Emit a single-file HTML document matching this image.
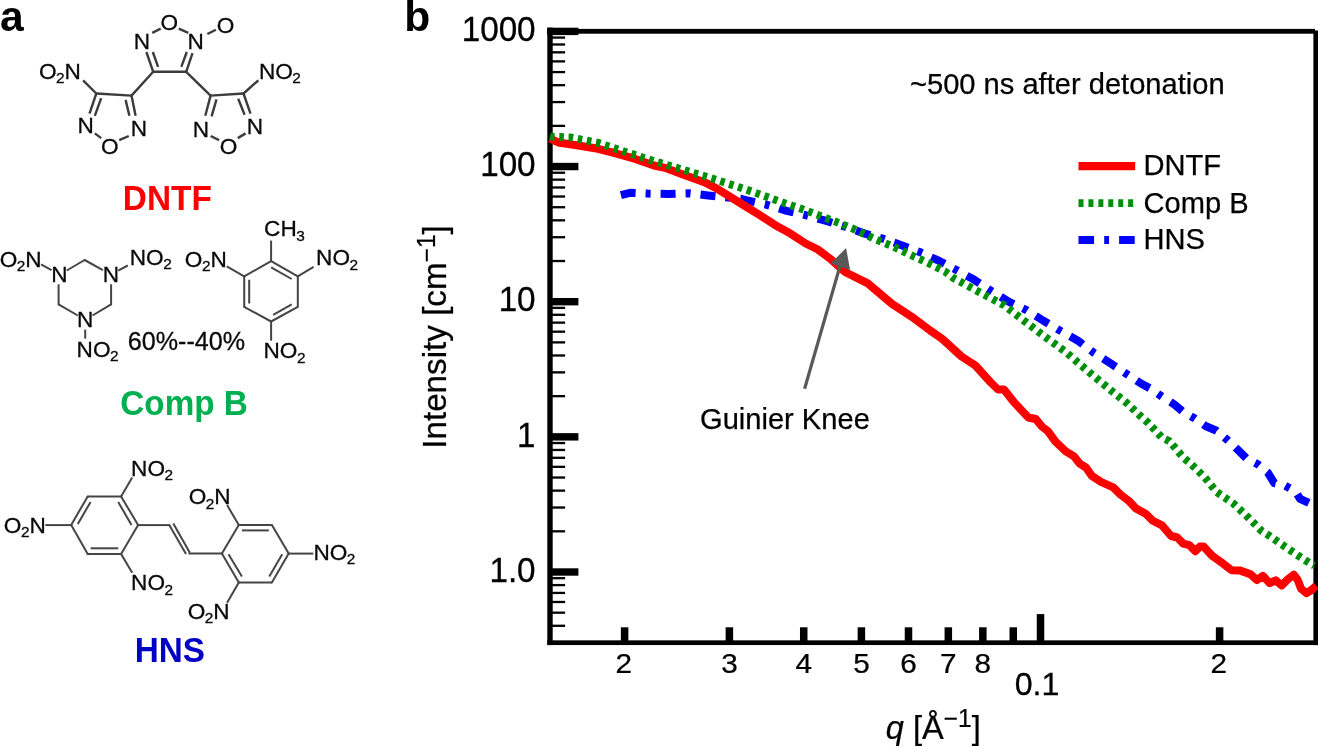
<!DOCTYPE html>
<html><head><meta charset="utf-8"><title>Figure</title>
<style>
html,body{margin:0;padding:0;background:#fff;}
body{width:1318px;height:747px;overflow:hidden;}
svg{display:block;font-family:"Liberation Sans", Arial, Helvetica, sans-serif;will-change:transform;}
.b{stroke:#454545;stroke-width:2.0;stroke-linecap:butt;fill:none;}
.d{fill:#454545;stroke:none;}
.dn .d{fill:#3c3c3c;}
.at{font-size:22.6px;fill:#0a0a0a;stroke:#0a0a0a;stroke-width:0.3;}
.dn .b{stroke:#3c3c3c;stroke-width:2.4;}
</style></head><body>
<svg width="1318" height="747" viewBox="0 0 1318 747">
<rect width="1318" height="747" fill="#fff"/>

<text x="0" y="31.4" font-size="42.6" font-weight="bold" fill="#000">a</text>
<text x="404.3" y="31" font-size="42.6" font-weight="bold" fill="#000">b</text>
<g id="chem">
<g style="stroke-width:2.4;stroke:#3c3c3c" class="dn">
<line class="b" x1="152.2" y1="32.9" x2="160.7" y2="28.7"/>
<line class="b" x1="178.7" y1="28.7" x2="188.3" y2="32.9"/>
<line class="b" x1="207.4" y1="34.0" x2="215.9" y2="29.7"/>
<line class="b" x1="146.4" y1="52.0" x2="153.2" y2="71.8"/>
<line class="b" x1="152.8" y1="52.0" x2="158.1" y2="66.9"/>
<line class="b" x1="153.2" y1="71.8" x2="186.2" y2="71.8"/>
<line class="b" x1="192.5" y1="53.1" x2="186.2" y2="71.8"/>
<line class="b" x1="186.8" y1="52.0" x2="181.3" y2="66.9"/>
<line class="b" x1="153.2" y1="71.8" x2="131.5" y2="95.6"/>
<line class="b" x1="186.2" y1="71.8" x2="210.6" y2="95.6"/>
<circle class="d" cx="153.2" cy="71.8" r="1.2"/>
<circle class="d" cx="186.2" cy="71.8" r="1.2"/>
<circle class="d" cx="96.3" cy="93.5" r="1.2"/>
<circle class="d" cx="131.5" cy="95.6" r="1.2"/>
<circle class="d" cx="210.6" cy="95.6" r="1.2"/>
<circle class="d" cx="243.5" cy="93.5" r="1.2"/>
<text class="at" x="169.2" y="30.1" text-anchor="middle">O</text>
<text class="at" x="142.0" y="49.1" text-anchor="middle">N</text>
<text class="at" x="195.7" y="49.1" text-anchor="middle">N</text>
<text class="at" x="225.5" y="33.2" text-anchor="middle">O</text>
<line class="b" x1="83.1" y1="80.3" x2="96.3" y2="93.5"/>
<line class="b" x1="96.3" y1="93.5" x2="131.5" y2="95.6"/>
<line class="b" x1="96.3" y1="93.5" x2="89.5" y2="113.7"/>
<line class="b" x1="101.2" y1="98.2" x2="94.8" y2="115.8"/>
<line class="b" x1="131.5" y1="95.6" x2="135.6" y2="115.8"/>
<line class="b" x1="125.6" y1="99.9" x2="129.4" y2="115.8"/>
<line class="b" x1="94.8" y1="133.4" x2="101.2" y2="138.1"/>
<line class="b" x1="119.2" y1="140.2" x2="128.8" y2="136.0"/>
<text class="at" x="85.7" y="133.1" text-anchor="middle">N</text>
<text class="at" x="138.8" y="136.2" text-anchor="middle">N</text>
<text class="at" x="109.7" y="154.3" text-anchor="middle">O</text>
<text class="at" x="80.9" y="78.6" text-anchor="end">O<tspan font-size="15.4" dy="4.3" dx="-0.5">2</tspan><tspan dy="-4.3">N</tspan></text>
<line class="b" x1="210.6" y1="95.6" x2="243.5" y2="93.5"/>
<line class="b" x1="243.5" y1="93.5" x2="258.4" y2="80.3"/>
<line class="b" x1="210.6" y1="95.6" x2="205.3" y2="115.8"/>
<line class="b" x1="216.5" y1="99.4" x2="211.6" y2="116.4"/>
<line class="b" x1="243.5" y1="93.5" x2="250.5" y2="113.7"/>
<line class="b" x1="238.2" y1="98.8" x2="244.6" y2="114.7"/>
<line class="b" x1="210.6" y1="136.0" x2="219.1" y2="140.2"/>
<line class="b" x1="237.8" y1="138.1" x2="245.6" y2="133.4"/>
<text class="at" x="201.0" y="137.3" text-anchor="middle">N</text>
<text class="at" x="254.8" y="134.2" text-anchor="middle">N</text>
<text class="at" x="228.6" y="154.3" text-anchor="middle">O</text>
<text class="at" x="258.9" y="78.6">NO<tspan font-size="15.4" dy="4.3" dx="-0.5">2</tspan></text>
</g>
<line class="b" x1="66.7" y1="270.5" x2="84.6" y2="260.0"/>
<line class="b" x1="84.6" y1="260.0" x2="102.9" y2="270.1"/>
<line class="b" x1="58.6" y1="284.3" x2="58.6" y2="304.4"/>
<line class="b" x1="58.6" y1="304.4" x2="77.8" y2="315.5"/>
<line class="b" x1="111.1" y1="284.3" x2="111.1" y2="304.4"/>
<line class="b" x1="111.1" y1="304.4" x2="92.5" y2="315.5"/>
<line class="b" x1="41.0" y1="264.4" x2="51.5" y2="270.1"/>
<line class="b" x1="118.2" y1="270.7" x2="127.8" y2="265.5"/>
<line class="b" x1="85.2" y1="329.6" x2="85.2" y2="338.6"/>
<circle class="d" cx="84.6" cy="260.0" r="1.0"/>
<circle class="d" cx="58.6" cy="304.4" r="1.0"/>
<circle class="d" cx="111.1" cy="304.4" r="1.0"/>
<text class="at" x="59.5" y="282.1" text-anchor="middle">N</text>
<text class="at" x="110.8" y="282.1" text-anchor="middle">N</text>
<text class="at" x="85.2" y="327.2" text-anchor="middle">N</text>
<text class="at" x="41.6" y="266.5" text-anchor="end">O<tspan font-size="15.4" dy="4.3" dx="-0.5">2</tspan><tspan dy="-4.3">N</tspan></text>
<text class="at" x="129.8" y="264.9">NO<tspan font-size="15.4" dy="4.3" dx="-0.5">2</tspan></text>
<text class="at" x="76.6" y="356.9">NO<tspan font-size="15.4" dy="4.3" dx="-0.5">2</tspan></text>
<line class="b" x1="271.1" y1="261.1" x2="297.8" y2="276.4"/>
<line class="b" x1="297.8" y1="276.4" x2="297.8" y2="306.9"/>
<line class="b" x1="297.8" y1="306.9" x2="271.1" y2="321.5"/>
<line class="b" x1="271.1" y1="321.5" x2="244.2" y2="306.9"/>
<line class="b" x1="244.2" y1="306.9" x2="244.2" y2="276.4"/>
<line class="b" x1="244.2" y1="276.4" x2="271.1" y2="261.1"/>
<line class="b" x1="271.1" y1="267.3" x2="291.7" y2="279.0"/>
<line class="b" x1="249.2" y1="279.8" x2="249.2" y2="303.5"/>
<line class="b" x1="291.7" y1="304.4" x2="273.2" y2="314.9"/>
<line class="b" x1="271.1" y1="261.1" x2="271.1" y2="240.6"/>
<line class="b" x1="226.8" y1="266.4" x2="244.2" y2="276.4"/>
<line class="b" x1="297.8" y1="276.4" x2="313.6" y2="266.9"/>
<line class="b" x1="271.1" y1="321.5" x2="271.1" y2="340.7"/>
<circle class="d" cx="271.1" cy="261.1" r="1.0"/>
<circle class="d" cx="297.8" cy="276.4" r="1.0"/>
<circle class="d" cx="297.8" cy="306.9" r="1.0"/>
<circle class="d" cx="271.1" cy="321.5" r="1.0"/>
<circle class="d" cx="244.2" cy="306.9" r="1.0"/>
<circle class="d" cx="244.2" cy="276.4" r="1.0"/>
<text class="at" x="264.1" y="236.4">CH<tspan font-size="15.4" dy="4.3" dx="-0.5">3</tspan></text>
<text class="at" x="226.8" y="266.5" text-anchor="end">O<tspan font-size="15.4" dy="4.3" dx="-0.5">2</tspan><tspan dy="-4.3">N</tspan></text>
<text class="at" x="316.1" y="265.4">NO<tspan font-size="15.4" dy="4.3" dx="-0.5">2</tspan></text>
<text class="at" x="263.5" y="358.3">NO<tspan font-size="15.4" dy="4.3" dx="-0.5">2</tspan></text>
<line class="b" x1="71.2" y1="525.1" x2="87.7" y2="496.4"/>
<line class="b" x1="87.7" y1="496.4" x2="121.1" y2="496.4"/>
<line class="b" x1="121.1" y1="496.4" x2="138.1" y2="525.1"/>
<line class="b" x1="138.1" y1="525.1" x2="121.1" y2="553.9"/>
<line class="b" x1="121.1" y1="553.9" x2="87.7" y2="553.9"/>
<line class="b" x1="87.7" y1="553.9" x2="71.2" y2="525.1"/>
<line class="b" x1="77.8" y1="524.0" x2="90.6" y2="501.9"/>
<line class="b" x1="118.2" y1="501.9" x2="131.5" y2="525.1"/>
<line class="b" x1="90.6" y1="548.3" x2="118.2" y2="548.3"/>
<line class="b" x1="45.3" y1="525.1" x2="71.2" y2="525.1"/>
<line class="b" x1="121.1" y1="496.4" x2="132.2" y2="477.6"/>
<line class="b" x1="121.1" y1="553.9" x2="132.2" y2="572.7"/>
<line class="b" x1="138.1" y1="525.1" x2="169.6" y2="525.1"/>
<line class="b" x1="188.9" y1="553.4" x2="221.9" y2="553.6"/>
<line class="b" x1="169.4" y1="525.2" x2="186.0" y2="553.9"/>
<line class="b" x1="173.3" y1="523.6" x2="189.7" y2="552.4"/>
<line class="b" x1="221.9" y1="553.6" x2="238.8" y2="525.0"/>
<line class="b" x1="238.8" y1="525.0" x2="271.9" y2="525.0"/>
<line class="b" x1="271.9" y1="525.0" x2="288.7" y2="553.6"/>
<line class="b" x1="288.7" y1="553.6" x2="271.9" y2="582.4"/>
<line class="b" x1="271.9" y1="582.4" x2="238.8" y2="582.4"/>
<line class="b" x1="238.8" y1="582.4" x2="221.9" y2="553.6"/>
<line class="b" x1="241.9" y1="530.4" x2="268.8" y2="530.4"/>
<line class="b" x1="282.2" y1="554.3" x2="269.3" y2="576.6"/>
<line class="b" x1="228.5" y1="554.3" x2="241.9" y2="576.6"/>
<line class="b" x1="238.8" y1="525.0" x2="227.1" y2="505.1"/>
<line class="b" x1="238.8" y1="582.4" x2="227.1" y2="602.8"/>
<line class="b" x1="288.7" y1="553.6" x2="313.3" y2="553.6"/>
<circle class="d" cx="71.2" cy="525.1" r="1.0"/>
<circle class="d" cx="87.7" cy="496.4" r="1.0"/>
<circle class="d" cx="121.1" cy="496.4" r="1.0"/>
<circle class="d" cx="138.1" cy="525.1" r="1.0"/>
<circle class="d" cx="121.1" cy="553.9" r="1.0"/>
<circle class="d" cx="87.7" cy="553.9" r="1.0"/>
<circle class="d" cx="221.9" cy="553.6" r="1.0"/>
<circle class="d" cx="238.8" cy="525.0" r="1.0"/>
<circle class="d" cx="271.9" cy="525.0" r="1.0"/>
<circle class="d" cx="288.7" cy="553.6" r="1.0"/>
<circle class="d" cx="271.9" cy="582.4" r="1.0"/>
<circle class="d" cx="238.8" cy="582.4" r="1.0"/>
<circle class="d" cx="169.5" cy="525.2" r="1.0"/>
<circle class="d" cx="189.3" cy="553.2" r="1.0"/>
<text class="at" x="45.8" y="532.9" text-anchor="end">O<tspan font-size="15.4" dy="4.3" dx="-0.5">2</tspan><tspan dy="-4.3">N</tspan></text>
<text class="at" x="131.1" y="475.6">NO<tspan font-size="15.4" dy="4.3" dx="-0.5">2</tspan></text>
<text class="at" x="131.1" y="590.4">NO<tspan font-size="15.4" dy="4.3" dx="-0.5">2</tspan></text>
<text class="at" x="230.6" y="504.4" text-anchor="end">O<tspan font-size="15.4" dy="4.3" dx="-0.5">2</tspan><tspan dy="-4.3">N</tspan></text>
<text class="at" x="229.6" y="618.7" text-anchor="end">O<tspan font-size="15.4" dy="4.3" dx="-0.5">2</tspan><tspan dy="-4.3">N</tspan></text>
<text class="at" x="313.4" y="560.1">NO<tspan font-size="15.4" dy="4.3" dx="-0.5">2</tspan></text>
</g>
<text transform="translate(122.8,210.2) scale(1,1.045)" font-size="33.4" font-weight="bold" fill="#ff0000">DNTF</text>
<text transform="translate(120.3,414.9) scale(1,1.03)" font-size="33.3" font-weight="bold" fill="#00b050">Comp B</text>
<text transform="translate(134.7,661.7) scale(1,1.05)" font-size="33.3" font-weight="bold" fill="#0000c4">HNS</text>
<text x="127.8" y="349.5" font-size="25.1" fill="#0a0a0a" stroke="#0a0a0a" stroke-width="0.3">60%--40%</text>
<g id="axes" fill="#000">
<rect x="547.3" y="27.6" width="5.4" height="617.5000000000001"/>
<rect x="1313.3999999999999" y="30.5" width="4.9" height="614.6000000000001"/>
<rect x="547.3" y="28.900000000000002" width="767.7" height="4.8"/>
<rect x="547.3" y="640.35" width="771.0" height="4.7"/>
<rect x="547.3" y="27.70" width="31.1" height="7.4"/>
<rect x="549.8" y="162.85" width="28.6" height="7.4"/>
<rect x="549.8" y="298.00" width="28.6" height="7.4"/>
<rect x="549.8" y="433.15" width="28.6" height="7.4"/>
<rect x="549.8" y="568.30" width="28.6" height="7.4"/>
<rect x="549.8" y="124.72" width="15.3" height="2.3"/>
<rect x="549.8" y="100.92" width="15.3" height="2.3"/>
<rect x="549.8" y="84.03" width="15.3" height="2.3"/>
<rect x="549.8" y="70.93" width="15.3" height="2.3"/>
<rect x="549.8" y="60.23" width="15.3" height="2.3"/>
<rect x="549.8" y="51.18" width="15.3" height="2.3"/>
<rect x="549.8" y="43.35" width="15.3" height="2.3"/>
<rect x="549.8" y="36.43" width="15.3" height="2.3"/>
<rect x="549.8" y="259.87" width="15.3" height="2.3"/>
<rect x="549.8" y="236.07" width="15.3" height="2.3"/>
<rect x="549.8" y="219.18" width="15.3" height="2.3"/>
<rect x="549.8" y="206.08" width="15.3" height="2.3"/>
<rect x="549.8" y="195.38" width="15.3" height="2.3"/>
<rect x="549.8" y="186.33" width="15.3" height="2.3"/>
<rect x="549.8" y="178.50" width="15.3" height="2.3"/>
<rect x="549.8" y="171.58" width="15.3" height="2.3"/>
<rect x="549.8" y="395.02" width="15.3" height="2.3"/>
<rect x="549.8" y="371.22" width="15.3" height="2.3"/>
<rect x="549.8" y="354.33" width="15.3" height="2.3"/>
<rect x="549.8" y="341.23" width="15.3" height="2.3"/>
<rect x="549.8" y="330.53" width="15.3" height="2.3"/>
<rect x="549.8" y="321.48" width="15.3" height="2.3"/>
<rect x="549.8" y="313.65" width="15.3" height="2.3"/>
<rect x="549.8" y="306.73" width="15.3" height="2.3"/>
<rect x="549.8" y="530.17" width="15.3" height="2.3"/>
<rect x="549.8" y="506.37" width="15.3" height="2.3"/>
<rect x="549.8" y="489.48" width="15.3" height="2.3"/>
<rect x="549.8" y="476.38" width="15.3" height="2.3"/>
<rect x="549.8" y="465.68" width="15.3" height="2.3"/>
<rect x="549.8" y="456.63" width="15.3" height="2.3"/>
<rect x="549.8" y="448.80" width="15.3" height="2.3"/>
<rect x="549.8" y="441.88" width="15.3" height="2.3"/>
<rect x="549.8" y="624.63" width="15.3" height="2.3"/>
<rect x="549.8" y="611.53" width="15.3" height="2.3"/>
<rect x="549.8" y="600.83" width="15.3" height="2.3"/>
<rect x="549.8" y="591.78" width="15.3" height="2.3"/>
<rect x="549.8" y="583.95" width="15.3" height="2.3"/>
<rect x="549.8" y="577.03" width="15.3" height="2.3"/>
<rect x="620.86" y="627.3" width="7.5" height="14"/>
<rect x="725.64" y="627.3" width="7.5" height="14"/>
<rect x="799.98" y="627.3" width="7.5" height="14"/>
<rect x="857.64" y="627.3" width="7.5" height="14"/>
<rect x="904.75" y="627.3" width="7.5" height="14"/>
<rect x="944.58" y="627.3" width="7.5" height="14"/>
<rect x="979.09" y="627.3" width="7.5" height="14"/>
<rect x="1009.52" y="627.3" width="7.5" height="14"/>
<rect x="1215.86" y="627.3" width="7.5" height="14"/>
<rect x="1036.75" y="614.1" width="7.5" height="27"/>
</g>
<g font-size="34.4" fill="#000" stroke="#000" stroke-width="0.3" text-anchor="end">
<text transform="translate(535.6,40.8) scale(0.966,1)">1000</text>
<text transform="translate(535.6,176.2) scale(0.966,1)">100</text>
<text transform="translate(535.6,311.4) scale(0.966,1)">10</text>
<text transform="translate(535.6,446.6) scale(0.966,1)">1</text>
<text transform="translate(535.6,582.4) scale(0.966,1)">1.0</text>
</g>
<g font-size="27" fill="#000" stroke="#000" stroke-width="0.25" text-anchor="middle">
<text transform="translate(623.8,672.6) scale(1.1,1)">2</text>
<text transform="translate(729.4,672.6) scale(1.1,1)">3</text>
<text transform="translate(803.7,672.6) scale(1.1,1)">4</text>
<text transform="translate(861.4,672.6) scale(1.1,1)">5</text>
<text transform="translate(908.5,672.6) scale(1.1,1)">6</text>
<text transform="translate(948.3,672.6) scale(1.1,1)">7</text>
<text transform="translate(982.8,672.6) scale(1.1,1)">8</text>
<text transform="translate(1218.8,672.6) scale(1.1,1)">2</text>
</g>
<text x="1037.0" y="695" font-size="32.2" text-anchor="middle" fill="#000" stroke="#000" stroke-width="0.3">0.1</text>
<text transform="translate(446,448.8) rotate(-90) scale(0.977,1)" font-size="34" fill="#000" stroke="#000" stroke-width="0.25">Intensity [cm<tspan font-size="25" dy="-11">−1</tspan><tspan dy="11">]</tspan></text>
<text transform="translate(885.8,739) scale(0.965,1)" font-size="33.8" fill="#000" stroke="#000" stroke-width="0.25"><tspan font-style="italic">q</tspan> [Å<tspan font-size="25.4" dy="-12.3">−1</tspan><tspan dy="12.3">]</tspan></text>
<text x="910" y="94.3" font-size="29.1" fill="#000" stroke="#000" stroke-width="0.25">~500 ns after detonation</text>
<text x="700" y="428.9" font-size="29.1" fill="#000" stroke="#000" stroke-width="0.25">Guinier Knee</text>
<text x="1143.5" y="175.3" font-size="29.1" fill="#000" stroke="#000" stroke-width="0.25">DNTF</text>
<text x="1143.5" y="213.1" font-size="29.1" fill="#000" stroke="#000" stroke-width="0.25">Comp B</text>
<text x="1143.5" y="249.3" font-size="29.1" fill="#000" stroke="#000" stroke-width="0.25">HNS</text>
<line x1="1078.5" y1="166.1" x2="1135.2" y2="166.1" stroke="#ff0000" stroke-width="8.2"/>
<line x1="1078.5" y1="203.1" x2="1135.2" y2="203.1" stroke="#008f0a" stroke-width="7.9" stroke-dasharray="5 4.93"/>
<line x1="1078.5" y1="240" x2="1135.2" y2="240" stroke="#0000ff" stroke-width="8" stroke-dasharray="15.6 10.1 4.8 10.1"/>
<g id="curves">
<polyline points="620.9,195.1 630.0,192.8 648.0,193.6 668.0,193.9 688.4,193.3 708.0,195.4 742.0,199.0 749.6,201.0 767.0,204.8 786.7,210.8 806.5,215.4 825.4,220.7 845.2,226.8 864.9,233.6 883.8,238.9 902.8,245.7 921.0,252.6 939.8,261.2 957.3,270.5 974.0,279.6 991.4,291.0 1009.1,301.9 1027.0,310.3 1043.0,320.5 1060.9,331.1 1078.4,341.0 1094.3,353.1 1111.0,363.7 1128.4,375.1 1141.0,383.5 1149.9,388.3 1162.0,396.7 1174.1,404.3 1183.2,411.9 1193.9,417.9 1206.0,426.3 1216.6,430.8 1227.3,439.9 1237.9,449.8 1247.0,458.9 1257.6,464.2 1267.8,472.6 1274.3,483.2 1284.9,485.5 1295.5,491.4 1300.1,498.8 1313.0,504.9 1318.0,507.5" fill="none" stroke-linejoin="round" stroke="#0000ff" stroke-width="8" stroke-dasharray="15 10 5 10"/>
<polyline points="550.0,138.5 553.0,140.0 559.4,142.8 575.3,145.0 598.0,148.8 610.0,151.9 634.5,158.7 654.0,165.5 665.0,167.8 681.6,173.9 704.3,182.2 716.5,188.3 745.0,206.0 760.2,215.4 775.3,225.2 790.5,233.6 805.7,243.5 817.8,249.5 830.0,258.6 845.0,272.0 867.8,283.4 892.0,303.9 911.8,316.8 930.0,330.4 942.1,338.8 961.5,356.5 975.2,365.3 990.3,382.0 998.0,389.5 1004.0,389.5 1014.0,402.3 1026.0,414.9 1028.2,417.5 1035.8,419.0 1041.9,426.6 1047.9,431.1 1055.5,441.7 1066.1,451.6 1073.7,456.1 1079.8,463.7 1085.9,467.5 1091.9,475.9 1101.0,481.9 1113.2,487.3 1120.5,494.6 1128.5,500.6 1136.0,508.6 1146.0,514.0 1152.9,520.8 1162.0,525.4 1171.1,536.0 1177.2,537.5 1183.3,543.6 1189.3,545.1 1195.4,551.2 1199.9,546.6 1203.7,546.6 1212.1,555.7 1222.7,563.3 1231.5,570.2 1239.5,570.4 1250.2,574.1 1256.9,580.1 1263.0,575.8 1269.6,583.2 1275.7,580.4 1281.7,585.5 1287.7,579.4 1293.8,574.7 1297.8,580.1 1301.1,588.8 1306.5,593.3 1311.2,590.1 1316.3,585.8" fill="none" stroke-linejoin="round" stroke="#ff0000" stroke-width="8"/>
<polyline points="550.0,136.3 551.8,136.7 570.8,137.5 598.0,142.8 625.4,151.9 653.5,161.0 681.6,169.3 709.6,177.7 737.7,186.8 746.5,189.6 765.5,196.4 784.5,203.2 802.7,209.3 820.9,216.1 839.0,223.0 857.3,230.6 874.7,238.9 893.0,246.5 910.4,254.8 928.6,263.2 945.0,271.5 953.5,278.1 978.5,291.7 1004.3,305.4 1020.7,318.2 1043.5,335.7 1066.2,352.4 1089.0,372.1 1111.7,391.0 1126.8,403.0 1140.8,416.4 1148.1,422.8 1162.0,437.7 1169.3,441.0 1183.2,457.4 1190.6,463.7 1204.5,477.1 1216.6,492.0 1233.3,503.4 1247.0,516.3 1261.4,530.7 1269.7,536.0 1284.9,546.6 1301.6,558.0 1310.0,563.3 1314.0,565.5" fill="none" stroke-linejoin="round" stroke="#008f0a" stroke-width="7.8" stroke-dasharray="4.6 4.7"/>
</g>
<line x1="804.6" y1="388.7" x2="840.6" y2="264" stroke="#595959" stroke-width="3.2" stroke-linecap="butt"/>
<polygon points="846.1,248 830.5,263.6 850.1,270" fill="#595959"/>
</svg></body></html>
